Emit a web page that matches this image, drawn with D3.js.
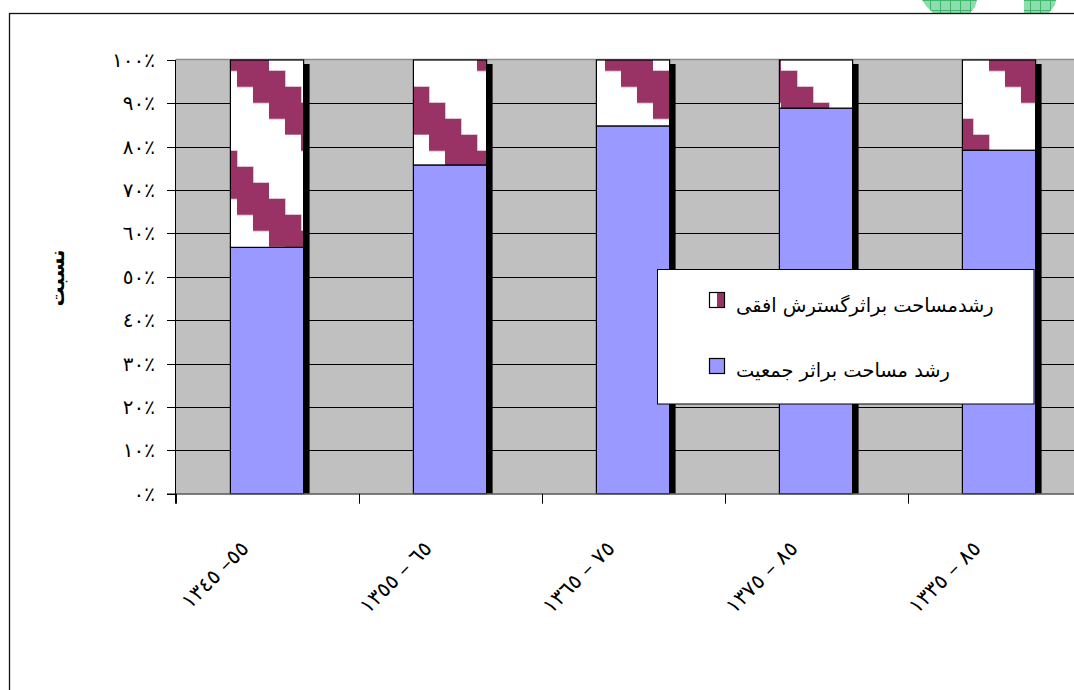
<!DOCTYPE html>
<html>
<head>
<meta charset="utf-8">
<script src="https://cdn.jsdelivr.net/npm/d3@7/dist/d3.min.js"></script>
<style>
  html, body { margin: 0; padding: 0; background: #fff; }
  svg { display: block; }
  .num { unicode-bidi: bidi-override; direction: ltr; }
</style>
</head>
<body>
<div id="chart"></div>
<script>
// ---- data ----
const categories = ["١٣٤٥ –٥٥", "١٣٥٥ – ٦٥", "١٣٦٥ – ٧٥", "١٣٧٥ – ٨٥", "١٣٣٥ – ٨٥"];
const populationGrowth = [56.8, 75.8, 84.8, 88.9, 79.2];     // رشد مساحت براثر جمعیت
const horizontalGrowth = [43.2, 24.2, 15.2, 11.1, 20.8];     // رشدمساحت براثرگسترش افقی
const yTicks = [0, 10, 20, 30, 40, 50, 60, 70, 80, 90, 100];
const yTickLabels = ["٠٪", "١٠٪", "٢٠٪", "٣٠٪", "٤٠٪", "٥٠٪", "٦٠٪", "٧٠٪", "٨٠٪", "٩٠٪", "١٠٠٪"];
const seriesNames = ["رشدمساحت براثرگسترش افقی", "رشد مساحت براثر جمعیت"];
const yTitle = "نسبت";

// ---- setup ----
const W = 1074, H = 690;
const svg = d3.select("#chart").append("svg").attr("width", W).attr("height", H);
const font = "'DejaVu Serif','DejaVu Sans', serif";

const plotL = 175.5, plotT = 60, plotB = 493.7, catStep = 183;
const plotR = plotL + catStep * categories.length;

const x = d3.scaleBand().domain(categories).range([plotL, plotR]).paddingInner(0.6).paddingOuter(0.3);
const y = d3.scaleLinear().domain([0, 100]).range([plotB, plotT]);

const defs = svg.append("defs");
// staircase diagonal pattern (global user space)
const pat = defs.append("pattern").attr("id", "stairs")
  .attr("patternUnits", "userSpaceOnUse")
  .attr("x", 13).attr("y", 6.7).attr("width", 128).attr("height", 128);
pat.append("rect").attr("width", 128).attr("height", 128).attr("fill", "#fff");
const cells = [];
for (let r = 0; r < 8; r++) for (let c = 0; c < 8; c++) {
  const k = ((c - r) % 8 + 8) % 8;
  if (k >= 2 && k <= 4) cells.push({r, c});
}
pat.selectAll("rect.c").data(cells).enter().append("rect").attr("class", "c")
  .attr("x", d => d.c * 16).attr("y", d => d.r * 16).attr("width", 16.3).attr("height", 16.3)
  .attr("fill", "#993366");

// green grid pattern for decoration
const gp = defs.append("pattern").attr("id", "greengrid").attr("patternUnits", "userSpaceOnUse")
  .attr("width", 10).attr("height", 10);
gp.append("rect").attr("width", 10).attr("height", 10).attr("fill", "#8fdcae");
gp.append("path").attr("d", "M0,0.5H10M0.5,0V10").attr("stroke", "#3cb66a").attr("stroke-width", 1);

// decorative fragments at top
svg.append("polygon").attr("points", "922,0 977,0 975,7 970,13 933,13 926,6").attr("fill", "url(#greengrid)");
svg.append("polygon").attr("points", "1024,0 1056,0 1055,5 1049,13 1024,13").attr("fill", "url(#greengrid)");

// outer chart border
svg.append("rect").attr("x", 9.5).attr("y", 13.5).attr("width", 1200).attr("height", 800)
  .attr("fill", "none").attr("stroke", "#111").attr("stroke-width", 1.3);

// plot area
svg.append("rect").attr("x", plotL).attr("y", plotT).attr("width", plotR - plotL).attr("height", plotB - plotT)
  .attr("fill", "#c0c0c0");

// gridlines
svg.append("g").selectAll("line").data(yTicks.filter(t => t > 0 && t < 100)).enter().append("line")
  .attr("x1", plotL).attr("x2", plotR)
  .attr("y1", d => Math.round(y(d)) + 0.5).attr("y2", d => Math.round(y(d)) + 0.5)
  .attr("stroke", "#000").attr("stroke-width", 1);
// top border
svg.append("line").attr("x1", plotL).attr("x2", plotR).attr("y1", plotT - 0.5).attr("y2", plotT - 0.5)
  .attr("stroke", "#8c8c8c").attr("stroke-width", 1.5);

// shadows
const stackTop = populationGrowth.map((v, i) => v + horizontalGrowth[i]);
svg.append("g").selectAll("rect").data(categories).enter().append("rect")
  .attr("x", d => x(d) + 6).attr("y", (d, i) => y(stackTop[i]) + 4)
  .attr("width", x.bandwidth()).attr("height", (d, i) => plotB - y(stackTop[i]) - 4)
  .attr("fill", "#000");

// population series (bottom)
svg.append("g").selectAll("rect").data(categories).enter().append("rect")
  .attr("x", d => x(d)).attr("y", (d, i) => y(populationGrowth[i]))
  .attr("width", x.bandwidth()).attr("height", (d, i) => plotB - y(populationGrowth[i]))
  .attr("fill", "#9999ff").attr("stroke", "#000").attr("stroke-width", 1.2);

// horizontal growth series (top, patterned)
svg.append("g").selectAll("rect").data(categories).enter().append("rect")
  .attr("x", d => x(d)).attr("y", (d, i) => y(stackTop[i]))
  .attr("width", x.bandwidth()).attr("height", (d, i) => y(populationGrowth[i]) - y(stackTop[i]))
  .attr("fill", "url(#stairs)").attr("stroke", "#000").attr("stroke-width", 1.2);

// x axis line
svg.append("line").attr("x1", 167).attr("x2", plotR).attr("y1", plotB + 0.3).attr("y2", plotB + 0.3)
  .attr("stroke", "#555").attr("stroke-width", 1.5);
// x ticks at category boundaries
const boundaries = d3.range(categories.length + 1).map(i => plotL + i * catStep);
svg.append("g").selectAll("line").data(boundaries).enter().append("line")
  .attr("x1", d => Math.round(d) + 0.5).attr("x2", d => Math.round(d) + 0.5)
  .attr("y1", plotB).attr("y2", plotB + 10).attr("stroke", "#000");

// y axis line and ticks
svg.append("line").attr("x1", plotL).attr("x2", plotL).attr("y1", plotT).attr("y2", plotB + 10)
  .attr("stroke", "#000").attr("stroke-width", 1);
svg.append("g").selectAll("line").data(yTicks).enter().append("line")
  .attr("x1", 167).attr("x2", plotL)
  .attr("y1", d => Math.round(y(d)) + 0.5).attr("y2", d => Math.round(y(d)) + 0.5)
  .attr("stroke", "#000");

// y tick labels
svg.append("g").selectAll("text").data(yTicks).enter().append("text")
  .attr("class", "num")
  .attr("x", 155).attr("y", d => y(d) + 7)
  .attr("text-anchor", "end").attr("font-family", font).attr("font-size", 20)
  .attr("fill", "#000")
  .text((d, i) => yTickLabels[i]);

// y title
svg.append("text").attr("transform", "translate(64,278) rotate(-90)")
  .attr("text-anchor", "middle").attr("font-family", font).attr("font-size", 20).attr("font-weight", "bold")
  .text(yTitle);

// x labels
svg.append("g").selectAll("text").data(categories).enter().append("text")
  .attr("class", "num")
  .attr("transform", d => `translate(${x(d) + x.bandwidth() / 2 - 17},${plotB + 56}) rotate(-45)`)
  .attr("text-anchor", "end").attr("font-family", font).attr("font-size", 21)
  .text(d => d);

// legend
const lg = svg.append("g");
lg.append("rect").attr("x", 657.5).attr("y", 269.5).attr("width", 376.5).attr("height", 134.5)
  .attr("fill", "#fff").attr("stroke", "#000").attr("stroke-width", 1);
// swatch 1: half white, half maroon
lg.append("rect").attr("x", 709.5).attr("y", 292.5).attr("width", 15).attr("height", 15).attr("fill", "#fff");
lg.append("rect").attr("x", 717).attr("y", 292.5).attr("width", 7.5).attr("height", 15).attr("fill", "#993366");
lg.append("rect").attr("x", 709.5).attr("y", 292.5).attr("width", 15).attr("height", 15)
  .attr("fill", "none").attr("stroke", "#000").attr("stroke-width", 1.2);
lg.append("rect").attr("x", 709.5).attr("y", 358.5).attr("width", 15).attr("height", 15)
  .attr("fill", "#9999ff").attr("stroke", "#000").attr("stroke-width", 1.2);
lg.selectAll("text").data(seriesNames).enter().append("text")
  .attr("x", 736).attr("y", (d, i) => i === 0 ? 312 : 377)
  .attr("text-anchor", "start").attr("font-family", font).attr("font-size", 19.4)
  .text(d => d);
</script>
</body>
</html>
